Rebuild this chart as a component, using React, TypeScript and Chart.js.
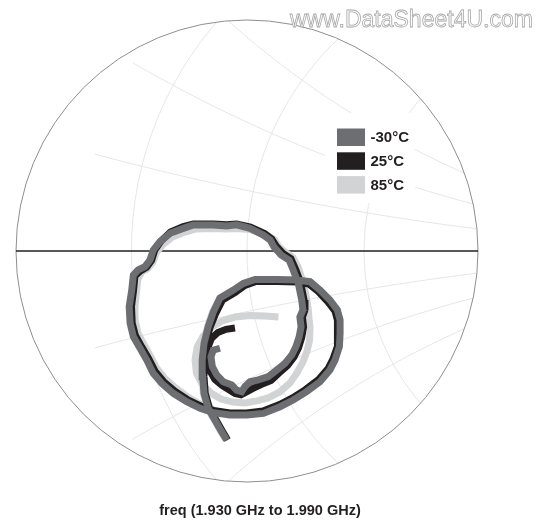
import { useEffect, useRef } from "react";
import { Chart, registerables } from "chart.js";

Chart.register(...registerables);

// Reflection coefficient, normalised so that the outer circle is |Γ| = 1
const seriesLabels = ["-30°C", "25°C", "85°C"];
const seriesColors = ["#6d6e71", "#231f20", "#d1d3d4"];
const titleText = "freq (1.930 GHz to 1.990 GHz)";
const watermarkText = "www.DataSheet4U.com";

// Smith-type grid drawn behind the traces
const gridResistance = [0.67, 1, 1.5];
const gridReactance = [0.205, 0.42, 0.645];
const gridStartR = 0.56;
const gridScale = 2.532;

const gammaM30: [number, number][] = [
  [-0.088, -0.818], [-0.110, -0.782], [-0.139, -0.732], [-0.168, -0.681], [-0.186, -0.616],
  [-0.192, -0.544], [-0.194, -0.472], [-0.186, -0.400], [-0.168, -0.328], [-0.146, -0.264],
  [-0.117, -0.203], [-0.059, -0.169], [-0.016, -0.140], [0.035, -0.123], [0.129, -0.123],
  [0.215, -0.126], [0.273, -0.133], [0.316, -0.169], [0.359, -0.212], [0.391, -0.255],
  [0.403, -0.299], [0.403, -0.356], [0.400, -0.414], [0.381, -0.472], [0.359, -0.515],
  [0.316, -0.566], [0.258, -0.609], [0.200, -0.645], [0.143, -0.674], [0.071, -0.703],
  [-0.001, -0.710], [-0.074, -0.710], [-0.146, -0.700], [-0.203, -0.681], [-0.261, -0.652],
  [-0.319, -0.616], [-0.369, -0.573], [-0.406, -0.529], [-0.434, -0.472], [-0.463, -0.421],
  [-0.492, -0.371], [-0.506, -0.313], [-0.510, -0.241], [-0.499, -0.169], [-0.492, -0.104],
  [-0.471, -0.082], [-0.442, -0.068], [-0.420, -0.039], [-0.406, 0.004], [-0.377, 0.040],
  [-0.333, 0.077], [-0.276, 0.098], [-0.232, 0.113], [-0.146, 0.113], [-0.088, 0.108],
  [-0.045, 0.113], [0.013, 0.098], [0.071, 0.069], [0.100, 0.048], [0.117, 0.017],
  [0.147, -0.017], [0.182, -0.039], [0.200, -0.082], [0.222, -0.140], [0.237, -0.212],
  [0.242, -0.255], [0.229, -0.286], [0.234, -0.328], [0.226, -0.371], [0.212, -0.414],
  [0.194, -0.450], [0.165, -0.486], [0.129, -0.515], [0.092, -0.544], [0.049, -0.558],
  [0.013, -0.566], [-0.009, -0.587], [-0.023, -0.609], [-0.045, -0.602], [-0.066, -0.580],
  [-0.103, -0.566], [-0.131, -0.537], [-0.150, -0.501], [-0.156, -0.458], [-0.146, -0.429],
  [-0.117, -0.421],
];

const gamma25: [number, number][] = [
  [-0.084, -0.818], [-0.105, -0.782], [-0.134, -0.732], [-0.162, -0.681], [-0.181, -0.616],
  [-0.186, -0.544], [-0.187, -0.472], [-0.180, -0.400], [-0.160, -0.331], [-0.136, -0.271],
  [-0.106, -0.212], [-0.052, -0.180], [-0.009, -0.149], [0.039, -0.132], [0.130, -0.132],
  [0.215, -0.134], [0.268, -0.143], [0.310, -0.177], [0.351, -0.221], [0.381, -0.260],
  [0.392, -0.301], [0.393, -0.356], [0.390, -0.413], [0.372, -0.468], [0.351, -0.509],
  [0.310, -0.556], [0.253, -0.600], [0.197, -0.636], [0.141, -0.665], [0.069, -0.693],
  [-0.001, -0.701], [-0.074, -0.701], [-0.145, -0.690], [-0.201, -0.671], [-0.258, -0.643],
  [-0.314, -0.606], [-0.361, -0.565], [-0.397, -0.522], [-0.426, -0.465], [-0.455, -0.416],
  [-0.483, -0.366], [-0.497, -0.312], [-0.500, -0.241], [-0.491, -0.169], [-0.485, -0.108],
  [-0.463, -0.087], [-0.435, -0.071], [-0.413, -0.041], [-0.399, 0.004], [-0.372, 0.043],
  [-0.331, 0.082], [-0.276, 0.106], [-0.232, 0.117], [-0.146, 0.117], [-0.088, 0.114],
  [-0.045, 0.117], [0.015, 0.104], [0.076, 0.076], [0.107, 0.052], [0.126, 0.022],
  [0.156, -0.010], [0.190, -0.033], [0.210, -0.078], [0.232, -0.136], [0.247, -0.212],
  [0.251, -0.255], [0.240, -0.286], [0.245, -0.329], [0.237, -0.374], [0.223, -0.420],
  [0.203, -0.459], [0.175, -0.496], [0.139, -0.528], [0.104, -0.561], [0.061, -0.578],
  [0.026, -0.595], [-0.002, -0.610], [-0.026, -0.623], [-0.052, -0.617], [-0.076, -0.602],
  [-0.108, -0.582], [-0.139, -0.556], [-0.160, -0.519], [-0.171, -0.472], [-0.170, -0.420],
  [-0.154, -0.379], [-0.126, -0.353], [-0.091, -0.339], [-0.052, -0.333],
];

const gamma85: [number, number][] = [
  [-0.091, -0.818], [-0.113, -0.782], [-0.142, -0.732], [-0.171, -0.681], [-0.189, -0.616],
  [-0.195, -0.544], [-0.197, -0.472], [-0.189, -0.400], [-0.171, -0.328], [-0.149, -0.264],
  [-0.119, -0.206], [-0.061, -0.171], [-0.017, -0.143], [0.035, -0.126], [0.129, -0.126],
  [0.215, -0.128], [0.273, -0.136], [0.316, -0.173], [0.355, -0.216], [0.385, -0.258],
  [0.397, -0.299], [0.398, -0.356], [0.395, -0.414], [0.377, -0.470], [0.355, -0.513],
  [0.314, -0.563], [0.258, -0.604], [0.200, -0.640], [0.143, -0.669], [0.071, -0.696],
  [-0.001, -0.703], [-0.074, -0.703], [-0.143, -0.693], [-0.197, -0.667], [-0.253, -0.634],
  [-0.307, -0.595], [-0.355, -0.552], [-0.390, -0.509], [-0.418, -0.455], [-0.446, -0.405],
  [-0.472, -0.357], [-0.485, -0.305], [-0.485, -0.241], [-0.478, -0.173], [-0.472, -0.121],
  [-0.455, -0.091], [-0.429, -0.076], [-0.407, -0.048], [-0.392, -0.006], [-0.364, 0.028],
  [-0.323, 0.061], [-0.268, 0.082], [-0.225, 0.095], [-0.146, 0.097], [-0.088, 0.095],
  [-0.045, 0.097], [0.013, 0.093], [0.078, 0.074], [0.119, 0.048], [0.139, 0.017],
  [0.167, -0.006], [0.199, -0.028], [0.221, -0.069], [0.240, -0.126], [0.255, -0.190],
  [0.264, -0.242], [0.268, -0.286], [0.273, -0.333], [0.271, -0.385], [0.260, -0.433],
  [0.242, -0.481], [0.216, -0.528], [0.186, -0.571], [0.143, -0.610], [0.091, -0.636],
  [0.043, -0.649], [-0.009, -0.658], [-0.061, -0.654], [-0.113, -0.641], [-0.156, -0.615],
  [-0.195, -0.576], [-0.219, -0.528], [-0.225, -0.472], [-0.216, -0.416], [-0.190, -0.368],
  [-0.152, -0.329], [-0.108, -0.303], [-0.052, -0.286], [0.013, -0.279], [0.078, -0.281],
  [0.136, -0.286],
];

const seriesData = [gammaM30, gamma25, gamma85];

const FONT = '"Liberation Sans", Arial, Helvetica, sans-serif';

const smithPlugin = {
  id: "smithDecor",
  beforeDatasetsDraw(chart: any) {
    const ctx = chart.ctx as CanvasRenderingContext2D;
    const xs = chart.scales.x;
    const ys = chart.scales.y;
    const cx = xs.getPixelForValue(0);
    const cy = ys.getPixelForValue(0);
    const R = xs.getPixelForValue(1) - cx;
    ctx.save();
    ctx.beginPath();
    ctx.arc(cx, cy, R, 0, Math.PI * 2);
    ctx.clip();
    ctx.strokeStyle = "#e3e3e3";
    ctx.lineWidth = 0.9;
    for (const r of gridResistance) {
      const c = (gridScale * r) / (r + 1);
      const rad = gridScale / (r + 1);
      ctx.beginPath();
      ctx.arc(cx + c * R, cy, rad * R, 0, Math.PI * 2);
      ctx.stroke();
    }
    for (const xv of gridReactance) {
      for (const s of [1, -1]) {
        const x = xv * s;
        ctx.beginPath();
        const N = 400;
        for (let i = 0; i <= N; i++) {
          const r = gridStartR * Math.pow(5000 / gridStartR, i / N);
          const den = (r + 1) * (r + 1) + x * x;
          const gr = (r * r - 1 + x * x) / den;
          const gi = (2 * x) / den;
          const px = cx + gridScale * gr * R;
          const py = cy - gridScale * gi * R;
          if (i === 0) ctx.moveTo(px, py);
          else ctx.lineTo(px, py);
        }
        ctx.stroke();
      }
    }
    ctx.restore();
    ctx.save();
    ctx.fillStyle = "#ffffff";
    ctx.fillRect(325, 113, 90, 90);
    ctx.beginPath();
    ctx.arc(cx, cy, R, 0, Math.PI * 2);
    ctx.strokeStyle = "#8e8e8e";
    ctx.lineWidth = 1;
    ctx.stroke();
    ctx.beginPath();
    ctx.moveTo(cx - R, cy);
    ctx.lineTo(cx + R, cy);
    ctx.strokeStyle = "#231f20";
    ctx.lineWidth = 1.3;
    ctx.stroke();
    ctx.restore();
  },
  afterDraw(chart: any) {
    const ctx = chart.ctx as CanvasRenderingContext2D;
    ctx.save();
    const sqX = 337;
    const sqY0 = 128.5;
    const step = 23.8;
    chart.data.datasets.forEach((ds: any, i: number) => {
      const y = sqY0 + i * step;
      ctx.fillStyle = ds.borderColor;
      ctx.fillRect(sqX, y, 28, 17.5);
      ctx.fillStyle = "#231f20";
      ctx.font = `bold 15px ${FONT}`;
      ctx.textAlign = "left";
      ctx.textBaseline = "alphabetic";
      ctx.fillText(ds.label, 370.5, y + 13.5);
    });
    ctx.font = `bold 14.5px ${FONT}`;
    ctx.textAlign = "center";
    ctx.fillStyle = "#231f20";
    ctx.fillText(titleText, 260, 515);
    ctx.font = `23px ${FONT}`;
    ctx.textAlign = "left";
    ctx.fillStyle = "#ffffff";
    ctx.fillText(watermarkText, 290, 27);
    ctx.strokeStyle = "#a8a8a8";
    ctx.lineWidth = 0.8;
    ctx.strokeText(watermarkText, 290, 27);
    ctx.restore();
  },
};

export default function App() {
  const ref = useRef<HTMLCanvasElement | null>(null);
  useEffect(() => {
    if (!ref.current) return;
    const chart = new Chart(ref.current, {
      type: "scatter",
      data: {
        datasets: seriesData.map((pts, i) => ({
          label: seriesLabels[i],
          data: pts.map(([x, y]) => ({ x, y })),
          showLine: true,
          borderColor: seriesColors[i],
          backgroundColor: seriesColors[i],
          borderWidth: 7,
          pointRadius: 0,
          pointHoverRadius: 0,
          tension: 0,
          fill: false,
          borderJoinStyle: "miter" as const,
          borderCapStyle: "butt" as const,
        })),
      },
      options: {
        responsive: false,
        maintainAspectRatio: false,
        devicePixelRatio: 1,
        animation: false,
        events: [],
        layout: { padding: { left: 16, right: 78, top: 20, bottom: 43 } },
        scales: {
          x: { type: "linear", min: -1, max: 1, display: false },
          y: { type: "linear", min: -1, max: 1, display: false },
        },
        plugins: {
          legend: { display: false },
          title: { display: false },
          tooltip: { enabled: false },
        },
      },
      plugins: [smithPlugin],
    });
    return () => chart.destroy();
  }, []);
  return (
    <div style={{ position: "absolute", left: 0, top: 0, width: 556, height: 525, background: "#fff" }}>
      <canvas ref={ref} width={556} height={525} style={{ width: 556, height: 525, display: "block" }} />
    </div>
  );
}
